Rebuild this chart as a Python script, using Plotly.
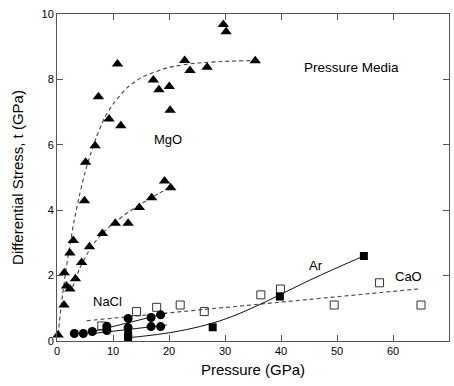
import plotly.graph_objects as go

# MgO data (filled triangles), steep series
mgo1_p = [0.2, 1.25, 1.3, 1.7, 2.3, 2.3, 2.9, 4.9, 5.1, 6.8, 7.4, 9.3, 10.8, 11.4, 17.2, 18.2, 20.05, 20.2, 22.8, 23.75, 26.8, 29.7, 30.2, 35.4]
mgo1_t = [0.18, 1.1, 2.09, 1.68, 1.59, 2.69, 3.07, 4.29, 5.47, 5.97, 7.47, 6.79, 8.47, 6.58, 7.98, 7.68, 7.78, 7.06, 8.58, 8.27, 8.37, 9.68, 9.46, 8.57]
# MgO second series
mgo2_p = [3.3, 4.4, 5.8, 8.1, 10.4, 12.7, 14.7, 16.9, 19.2, 20.3]
mgo2_t = [1.9, 2.4, 2.88, 3.29, 3.6, 3.6, 4.08, 4.38, 4.89, 4.69]
# NaCl (filled circles)
nacl_p = [3.1, 4.7, 6.3, 8.9, 8.9, 12.7, 12.7, 16.8, 18.5, 16.8, 18.5]
nacl_t = [0.23, 0.23, 0.29, 0.45, 0.32, 0.69, 0.41, 0.72, 0.8, 0.44, 0.44]
# Ar (filled squares)
ar_p = [12.7, 12.7, 27.8, 39.8, 54.8]
ar_t = [0.2, 0.11, 0.42, 1.36, 2.6]
# CaO (open squares)
cao_p = [8.0, 14.2, 17.8, 22.0, 26.3, 36.4, 39.9, 49.5, 57.6, 65.0]
cao_t = [0.46, 0.9, 1.03, 1.1, 0.9, 1.41, 1.59, 1.1, 1.78, 1.1]

# Fit curves
fit1_p = [0.2, 0.6, 1.0, 1.5, 2.0, 3.0, 4.0, 5.0, 6.0, 7.0, 8.5, 10.0, 12.5, 15.0, 20.0, 25.0, 30.0, 35.5]
fit1_t = [0.2, 0.85, 1.42, 2.05, 2.62, 3.62, 4.45, 5.15, 5.72, 6.22, 6.83, 7.24, 7.74, 8.05, 8.37, 8.5, 8.55, 8.58]
fit2_p = [2.8, 4.0, 6.0, 8.0, 10.0, 12.0, 14.0, 16.0, 18.0, 20.3]
fit2_t = [1.65, 2.2, 2.85, 3.28, 3.58, 3.85, 4.08, 4.3, 4.5, 4.7]
nacl_up_p = [5.9, 19.6]
nacl_up_t = [0.27, 0.85]
nacl_lo_p = [6.5, 19.6]
nacl_lo_t = [0.23, 0.49]
ar_fit_p = [12.7, 16.0, 20.0, 25.0, 30.0, 35.0, 40.0, 45.0, 50.0, 54.8]
ar_fit_t = [0.1, 0.16, 0.25, 0.42, 0.67, 1.02, 1.43, 1.85, 2.24, 2.6]
cao_fit_p = [5.3, 65.0]
cao_fit_t = [0.62, 1.6]

fig = go.Figure()
dash_line = dict(color="#444444", width=1.1, dash="4px,3px")
solid_line = dict(color="#111111", width=1)

fig.add_trace(go.Scatter(x=fit1_p, y=fit1_t, mode="lines", line=dict(**dash_line, shape="spline", smoothing=0.6)))
fig.add_trace(go.Scatter(x=fit2_p, y=fit2_t, mode="lines", line=dict(**dash_line, shape="spline", smoothing=0.6)))
fig.add_trace(go.Scatter(x=cao_fit_p, y=cao_fit_t, mode="lines", line=dash_line))
fig.add_trace(go.Scatter(x=nacl_up_p, y=nacl_up_t, mode="lines", line=solid_line))
fig.add_trace(go.Scatter(x=nacl_lo_p, y=nacl_lo_t, mode="lines", line=solid_line))
fig.add_trace(go.Scatter(x=ar_fit_p, y=ar_fit_t, mode="lines", line=dict(**solid_line, shape="spline", smoothing=1.0)))

fig.add_trace(go.Scatter(x=mgo1_p, y=mgo1_t, mode="markers", cliponaxis=False,
                         marker=dict(symbol="triangle-up", size=10, color="black")))
fig.add_trace(go.Scatter(x=mgo2_p, y=mgo2_t, mode="markers", cliponaxis=False,
                         marker=dict(symbol="triangle-up", size=10, color="black")))
fig.add_trace(go.Scatter(x=cao_p, y=cao_t, mode="markers", cliponaxis=False,
                         marker=dict(symbol="square-open", size=8, color="#333333", line=dict(width=1))))
fig.add_trace(go.Scatter(x=nacl_p, y=nacl_t, mode="markers", cliponaxis=False,
                         marker=dict(symbol="circle", size=9, color="black")))
fig.add_trace(go.Scatter(x=ar_p, y=ar_t, mode="markers", cliponaxis=False,
                         marker=dict(symbol="square", size=8, color="black")))

font = "Liberation Sans, Arial, Helvetica, sans-serif"
annots = [
    dict(x=52.5, y=8.35, text="Pressure Media", size=13.5),
    dict(x=19.8, y=6.15, text="MgO", size=13),
    dict(x=9.1, y=1.2, text="NaCl", size=13),
    dict(x=46.2, y=2.3, text="Ar", size=13),
    dict(x=62.7, y=1.96, text="CaO", size=13),
]
for a in annots:
    fig.add_annotation(x=a["x"], y=a["y"], text=a["text"], showarrow=False,
                       font=dict(family=font, size=a["size"], color="black"))

axis_common = dict(showgrid=False, zeroline=False, showline=True, linecolor="#555555", linewidth=1,
                   mirror="ticks", ticks="inside", ticklen=6, tickcolor="#555555", automargin=False,
                   tickfont=dict(family=font, size=11, color="black"))
fig.update_xaxes(range=[0, 70], dtick=10, title=dict(text="Pressure (GPa)", font=dict(family=font, size=15, color="black"), standoff=8), **axis_common)
fig.update_yaxes(range=[0, 10], dtick=2, title=dict(text="Differential Stress, t (GPa)", font=dict(family=font, size=15, color="black"), standoff=14), **axis_common)

fig.update_layout(width=454, height=386, margin=dict(l=57, r=5, t=14, b=45),
                  showlegend=False, plot_bgcolor="white", paper_bgcolor="white")

fig.write_html("out.html", config={"displayModeBar": False},
               post_script="document.body.style.margin='0';document.body.style.overflow='hidden';")
